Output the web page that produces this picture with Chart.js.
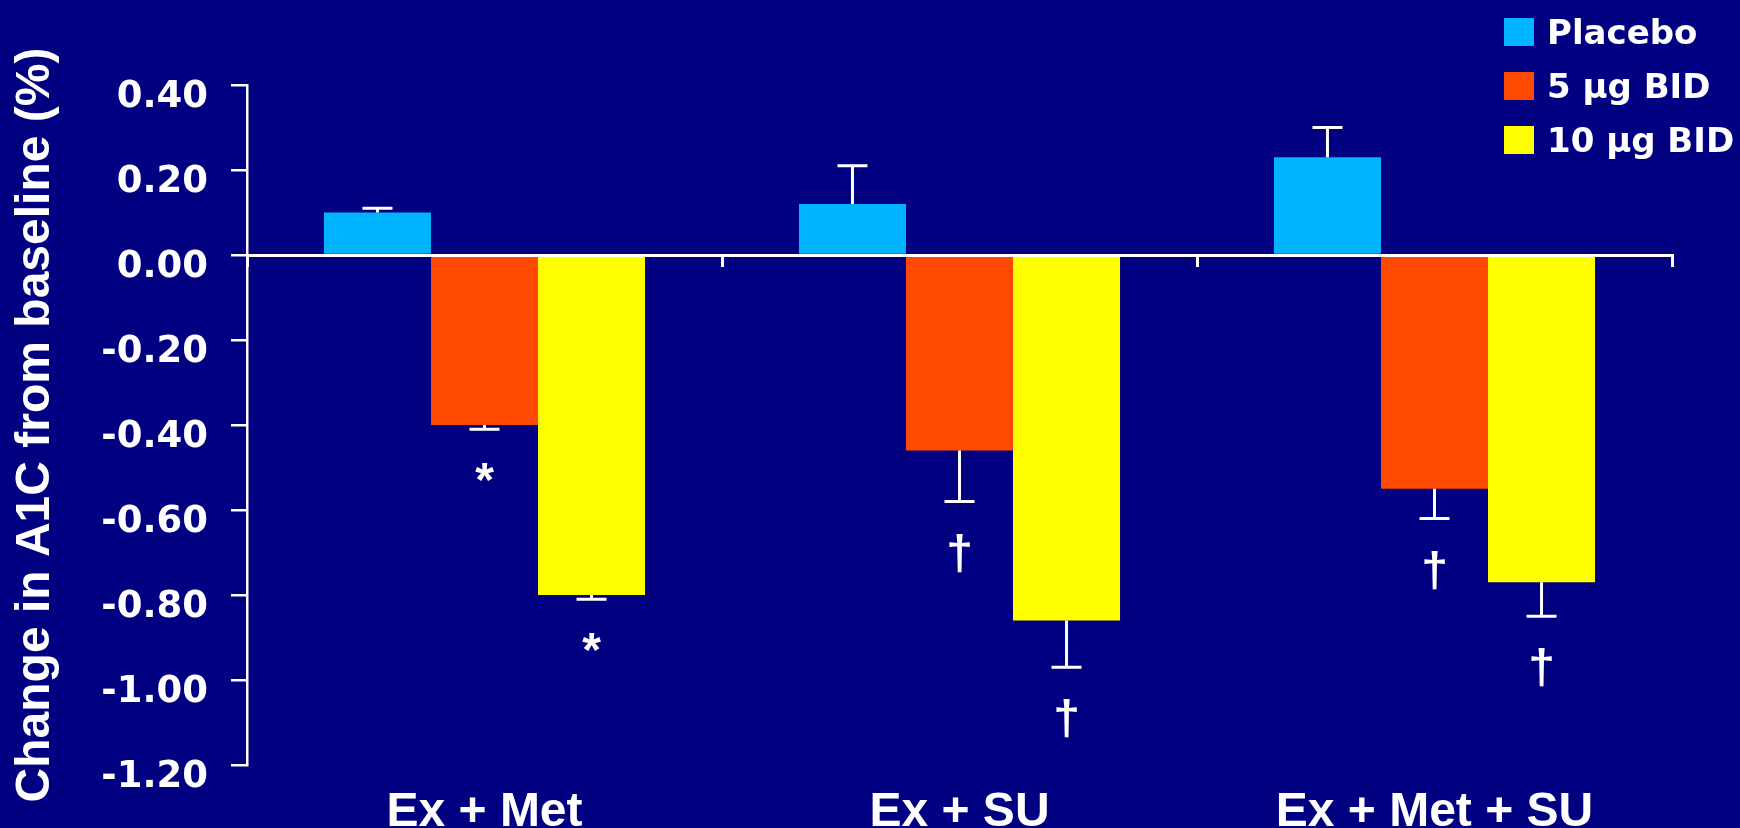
<!DOCTYPE html>
<html>
<head>
<meta charset="utf-8">
<script src="https://cdn.jsdelivr.net/npm/chart.js@4.4.0/dist/chart.umd.min.js"></script>
<style>
  html, body { margin: 0; padding: 0; background: #000080; overflow: hidden; }
  #wrap { position: relative; width: 1740px; height: 861px; }
  #legend { position: absolute; left: 1504px; top: 18px; color: #fff; font: bold 34px "DejaVu Sans", sans-serif; }
  #legend .row { display: flex; align-items: center; height: 28px; margin-bottom: 26px; white-space: nowrap; }
  #legend .sw { width: 30px; height: 28px; margin-right: 13px; flex: none; }
</style>
</head>
<body>
<div id="wrap">
  <canvas id="chart" width="1740" height="861" style="width:1740px;height:861px"></canvas>
  <div id="legend"></div>
</div>
<script>
// categorias y series
const categories = ["Ex + Met", "Ex + SU", "Ex + Met + SU"];
const seriesNames = ["Placebo", "5 \u03bcg BID", "10 \u03bcg BID"];
const placebo = [0.10, 0.12, 0.23];
const bid5 = [-0.40, -0.46, -0.55];
const bid10 = [-0.80, -0.86, -0.77];
// error estandar (barra hacia afuera)
const placeboErr = [0.01, 0.09, 0.07];
const bid5Err = [0.01, 0.12, 0.07];
const bid10Err = [0.01, 0.11, 0.08];
// marcas de significancia
const placeboSig = ["", "", ""];
const bid5Sig = ["*", "\u2020", "\u2020"];
const bid10Sig = ["*", "\u2020", "\u2020"];
// eje y
const yMin = -1.2, yMax = 0.4, yStep = 0.2;

const colors = ["#00B4FF", "#FF4800", "#FFFF00"];
const WHITE = "#ffffff";

const seriesValues = [placebo, bid5, bid10];
const seriesErr = [placeboErr, bid5Err, bid10Err];
const seriesSig = [placeboSig, bid5Sig, bid10Sig];

// plugin para barras de error y asteriscos/dagas
const errorBars = {
  id: "errorBars",
  afterDatasetsDraw(chart) {
    const ctx = chart.ctx;
    const yScale = chart.scales.y;
    ctx.save();
    ctx.strokeStyle = WHITE;
    ctx.fillStyle = WHITE;
    ctx.lineWidth = 3;
    chart.data.datasets.forEach((ds, i) => {
      const meta = chart.getDatasetMeta(i);
      meta.data.forEach((bar, j) => {
        const v = ds.data[j];
        const e = seriesErr[i][j];
        const end = v >= 0 ? v + e : v - e;
        const yEnd = yScale.getPixelForValue(end);
        ctx.beginPath();
        ctx.moveTo(bar.x, bar.y);
        ctx.lineTo(bar.x, yEnd);
        ctx.moveTo(bar.x - 15, yEnd);
        ctx.lineTo(bar.x + 15, yEnd);
        ctx.stroke();
        const mark = seriesSig[i][j];
        if (mark) {
          ctx.font = "bold 48px 'Liberation Sans', Arial, sans-serif";
          ctx.textAlign = "center";
          ctx.textBaseline = "alphabetic";
          ctx.fillText(mark, bar.x, yEnd + 67);
        }
      });
    });
    ctx.restore();
  }
};

const chart = new Chart(document.getElementById("chart"), {
  type: "bar",
  data: {
    labels: categories,
    datasets: seriesNames.map((name, i) => ({
      label: name,
      data: seriesValues[i],
      backgroundColor: colors[i],
      borderWidth: 0,
      categoryPercentage: 0.676,
      barPercentage: 1.0
    }))
  },
  options: {
    responsive: false,
    animation: false,
    events: [],
    layout: { padding: { top: 85, right: 68, bottom: 0, left: 0 } },
    plugins: {
      legend: { display: false },
      tooltip: { enabled: false }
    },
    scales: {
      x: {
        grid: { display: false, drawTicks: false },
        border: { display: false },
        ticks: {
          color: WHITE,
          padding: 24,
          maxRotation: 0,
          font: { family: "'Liberation Sans', Arial, sans-serif", size: 48, weight: "bold", lineHeight: 1 }
        }
      },
      // linea del cero con marcas entre categorias
      xz: {
        type: "category",
        position: { y: 0 },
        offset: true,
        grid: { offset: true, drawOnChartArea: false, drawTicks: true, tickLength: 10, color: WHITE, lineWidth: 3, z: 1 },
        border: { display: true, color: WHITE, width: 3, z: 1 },
        ticks: { display: false }
      },
      y: {
        min: yMin,
        max: yMax,
        afterFit(scale) { scale.width = 247; },
        grid: { drawOnChartArea: false, drawTicks: true, tickLength: 16, color: WHITE, tickColor: WHITE, lineWidth: 2.5 },
        border: { display: true, color: WHITE, width: 2.5 },
        ticks: {
          stepSize: yStep,
          color: WHITE,
          padding: 23,
          labelOffset: 12,
          font: { family: "'DejaVu Sans', sans-serif", size: 37, weight: "bold" },
          callback: (v) => (Math.abs(v) < 1e-9 ? 0 : v).toFixed(2)
        },
        title: {
          display: true,
          text: "Change in A1C from baseline (%)",
          color: WHITE,
          padding: { top: 12, bottom: 0 },
          font: { family: "'Liberation Sans', Arial, sans-serif", size: 48, weight: "bold", lineHeight: 1 }
        }
      }
    }
  },
  plugins: [errorBars]
});

// leyenda html a partir de los datasets
const legendEl = document.getElementById("legend");
chart.data.datasets.forEach((ds) => {
  const row = document.createElement("div");
  row.className = "row";
  const sw = document.createElement("span");
  sw.className = "sw";
  sw.style.background = ds.backgroundColor;
  const txt = document.createElement("span");
  txt.textContent = ds.label;
  row.appendChild(sw);
  row.appendChild(txt);
  legendEl.appendChild(row);
});
</script>
</body>
</html>
